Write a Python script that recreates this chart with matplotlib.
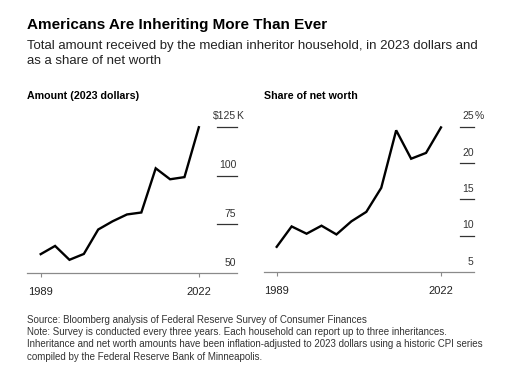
import matplotlib.pyplot as plt
import matplotlib.transforms as mtransforms

plt.rcParams['font.family'] = ['Liberation Sans', 'DejaVu Sans']

# survey years (every three years)
years = [1989, 1992, 1995, 1998, 2001, 2004, 2007, 2010, 2013, 2016, 2019, 2022]
# median inheritance, thousands of 2023 dollars
amount = [59.8, 64.0, 56.9, 59.9, 72.4, 76.6, 80.1, 81.1, 103.7, 98.1, 99.2, 124.7]
# inheritance as share of net worth, %
share = [8.5, 11.3, 10.3, 11.4, 10.2, 12.0, 13.3, 16.6, 24.5, 20.6, 21.4, 24.9]

amount_ticks = [50, 75, 100, 125]
amount_labels = ['50', '75', '100', '$125']
share_ticks = [5, 10, 15, 20, 25]
share_labels = ['5', '10', '15', '20', '25']

W, H = 507, 370
fig = plt.figure(figsize=(W / 100, H / 100), dpi=100)


def box(x0, x1, ytop, ybot):
    # pixel box -> figure fraction
    return [x0 / W, 1 - ybot / H, (x1 - x0) / W, (ybot - ytop) / H]


ax1 = fig.add_axes(box(27, 236.7, 116.9, 273.3))
ax2 = fig.add_axes(box(264, 474, 116.5, 272.3))

panels = [
    (ax1, amount, (50, 130), (1986.14, 2029.9), amount_ticks, amount_labels, 'K', 0.907, -0.2),
    (ax2, share, (5, 26.4), (1986.45, 2028.63), share_ticks, share_labels, '%', 0.933, 0.6),
]

for ax, vals, ylim, xlim, ticks, labels, suf, gx, sgap in panels:
    ax.plot(years, vals, color='black', lw=1.7, solid_joinstyle='miter')
    ax.set_ylim(*ylim)
    ax.set_xlim(*xlim)
    for s in ['top', 'right', 'left']:
        ax.spines[s].set_visible(False)
    ax.spines['bottom'].set_color('#8a8a8a')
    ax.spines['bottom'].set_linewidth(0.9)
    ax.set_yticks([])
    ax.set_xticks([1989, 2022])
    ax.set_xticklabels(['1989', '2022'])
    ax.tick_params(axis='x', length=3, width=0.8, color='#8a8a8a', pad=7,
                   labelsize=8, labelcolor='#222222')
    tr = mtransforms.blended_transform_factory(ax.transAxes, ax.transData)
    for t, lab in zip(ticks, labels):
        if t != ylim[0]:
            ax.plot([gx, 1.0], [t, t], transform=tr,
                    color='#333333', lw=0.9, clip_on=False)
        ax.annotate(lab, (0.998, t), xycoords=tr,
                    xytext=(0, 4), textcoords='offset points',
                    ha='right', va='bottom', fontsize=7.5, color='#333333')
    ax.annotate(suf, (0.998, ticks[-1]), xycoords=tr,
                xytext=(sgap, 4), textcoords='offset points',
                ha='left', va='bottom', fontsize=7.5, color='#333333')

fig.text(27 / W, 1 - 29 / H, 'Americans Are Inheriting More Than Ever',
         fontsize=11, fontweight='bold', va='baseline', color='black')
fig.text(27 / W, 1 - 49.3 / H,
         'Total amount received by the median inheritor household, in 2023 dollars and',
         fontsize=9.55, va='baseline', color='#222222')
fig.text(27 / W, 1 - 64.3 / H, 'as a share of net worth',
         fontsize=9.55, va='baseline', color='#222222')

fig.text(27 / W, 1 - 99 / H, 'Amount (2023 dollars)', fontsize=7.7,
         fontweight='bold', va='baseline')
fig.text(264 / W, 1 - 99 / H, 'Share of net worth', fontsize=7.7,
         fontweight='bold', va='baseline')

footer = [
    'Source: Bloomberg analysis of Federal Reserve Survey of Consumer Finances',
    'Note: Survey is conducted every three years. Each household can report up to three inheritances.',
    'Inheritance and net worth amounts have been inflation-adjusted to 2023 dollars using a historic CPI series',
    'compiled by the Federal Reserve Bank of Minneapolis.',
]
for i, line in enumerate(footer):
    fig.text(27 / W, 1 - (323 + 12.2 * i) / H, line, fontsize=7.0,
             va='baseline', color='#333333')

fig.savefig('out.png', dpi=100)
